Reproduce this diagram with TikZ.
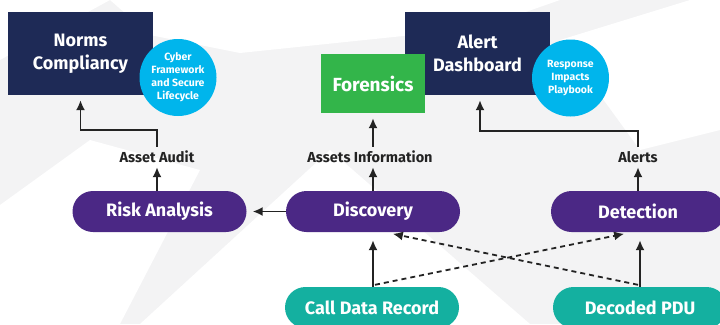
\documentclass[tikz,border=0pt]{standalone}
\usepackage{fontspec}
\setmainfont{Fira Sans}
\usetikzlibrary{shapes,arrows.meta}
\definecolor{navy}{HTML}{1E2A56}
\definecolor{leaf}{HTML}{33B54A}
\definecolor{sky}{HTML}{00B5EC}
\definecolor{grape}{HTML}{4B2885}
\definecolor{sea}{HTML}{14B0A0}
\definecolor{ink}{HTML}{232323}
\definecolor{haze}{HTML}{F3F3F4}

\begin{document}
\begin{tikzpicture}[x=1pt,y=-1pt]
		\tikzstyle {navybox} = [fill=navy, text=white, minimum width=145pt, minimum height=83pt, inner sep=0pt, align=center, font=\bfseries\fontsize{18}{23}\selectfont]
		\tikzstyle {badge} = [circle, fill=sky, text=white, minimum size=77pt, inner sep=0pt, align=center, font=\bfseries\fontsize{10.5}{13}\selectfont]
		\tikzstyle {pill} = [rounded corners=20.5pt, minimum width=174pt, minimum height=41pt, inner sep=0pt, text=white, font=\bfseries\fontsize{18}{20}\selectfont]
		\tikzstyle {tag} = [text=ink, minimum height=20pt, inner sep=0pt, font=\bfseries\fontsize{14.5}{16}\selectfont]
		\tikzstyle {flow} = [draw=ink, line width=1.8pt, -{Latex[length=10pt,width=9pt]}]
		\tikzstyle {maybe} = [flow, dash pattern=on 5pt off 4pt]

		\useasboundingbox (0,0) rectangle (720,324);
		\clip (0,0) rectangle (720,324);

		% faint low-poly background
		\fill[haze] (0,0) rectangle (720,324);
		\fill[white] (110,0) -- (560,0) -- (480,28) -- (240,53) -- (150,35) -- cycle;
		\fill[white] (140,324) -- (330,150) -- (530,324) -- cycle;
		\fill[white] (0,205) -- (90,140) -- (200,170) -- (120,324) -- (0,324) -- cycle;
		\fill[white] (560,40) -- (690,0) -- (720,0) -- (720,130) -- (640,150) -- cycle;
		\fill[white] (0,0) -- (110,0) -- (0,60) -- cycle;

		% top row
		\node[navybox] (norms) at (80.5,53.5) {Norms\\Compliancy};
		\node[badge] (cyber) at (178,77.5) {Cyber\\Framework\\and Secure\\Lifecycle};
		\node[navybox] (dash) at (477.5,53.5) {Alert\\Dashboard};
		\node[fill=leaf, text=white, minimum width=104pt, minimum height=59pt, inner sep=0pt,
		      font=\bfseries\fontsize{19}{20}\selectfont] (forens) at (373,83.5) {Forensics};
		\node[badge] (playbook) at (570.5,78) {Response\\Impacts\\Playbook};

		% labels on the way up
		\node[tag] (audit) at (157,157) {Asset Audit};
		\node[tag] (assets) at (370,157) {Assets Information};
		\node[tag] (alerts) at (638,157) {Alerts};

		% middle row
		\node[pill, fill=grape] (risk) at (159.5,211.5) {Risk Analysis};
		\node[pill, fill=grape] (disc) at (373,211.5) {Discovery};
		\node[pill, fill=grape] (detect) at (638,211.5) {Detection};

		% sources
		\node[pill, fill=sea] (cdr) at (372,307.5) {Call Data Record};
		\node[pill, fill=sea] (pdu) at (640,307.5) {Decoded PDU};

		\draw[flow] (risk.north -| audit) -- (audit.south);
		\draw[flow, shorten >=5pt] (audit.north) -- (157,130) -| (norms.south);
		\draw[flow] (373,191) -- (assets.south -| 373,0);
		\draw[flow, shorten >=5pt] (assets.north -| 373,0) -- (forens.south);
		\draw[flow] (detect.north -| alerts) -- (alerts.south);
		\draw[flow, shorten >=5pt] (alerts.north) -- (638,131) -| (dash.south -| 480,0);
		\draw[flow, shorten >=6pt] (disc.west) -- (risk.east);

		\draw[flow, shorten >=8pt] (cdr.north -| disc) -- (disc.south);
		\draw[flow, shorten >=8pt] (pdu.north) -- (detect.south -| pdu);
		\draw[maybe, shorten >=8pt] ([xshift=3pt,yshift=2pt]cdr.north) -- ([xshift=-8pt]detect.south -| pdu);
		\draw[maybe, shorten >=8pt] ([xshift=-2pt,yshift=2pt]pdu.north) -- ([xshift=12pt]disc.south);
\end{tikzpicture}
\end{document}
